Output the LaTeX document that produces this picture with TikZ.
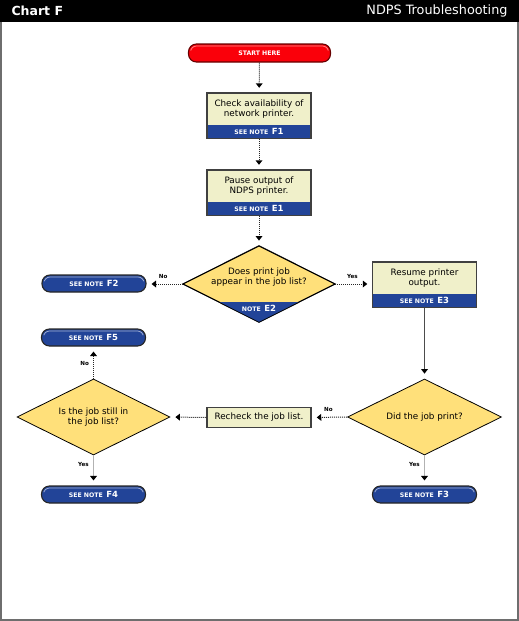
\documentclass[tikz,border=0pt]{standalone}
\usepackage{fontspec}
\setmainfont{DejaVu Sans}
\usepackage{tikz}
\usetikzlibrary{
arrows.meta,
calc,
positioning,
shapes.geometric,
}
\definecolor{notebl}{RGB}{34,68,152}
\definecolor{boxcream}{RGB}{240,240,202}
\definecolor{diamyel}{RGB}{255,224,122}
\definecolor{startred}{RGB}{250,0,10}
\definecolor{framegray}{RGB}{110,110,110}
\newcommand{\notetag}[2]{{\fontsize{6.2}{7}\selectfont\bfseries #1}\hspace{3.5pt}{\fontsize{8.5}{9}\selectfont\bfseries #2}}
\tikzset{>={Triangle[width=7pt,length=4.5pt,line width=0pt,color=black]}}

\begin{document}
\begin{tikzpicture}[x=1pt, y=-1pt,
  txt/.style={font=\fontsize{8.8}{10}\selectfont, align=center},
  taskbox/.style={txt, fill=boxcream, minimum width=104pt, minimum height=32pt, inner sep=0pt},
  noteband/.style={fill=notebl, text=white, minimum width=104pt, minimum height=13pt, inner sep=0pt},
  boxframe/.style={draw=black!75, line width=1.5pt},
  decision/.style={diamond, aspect=2, draw=black, line width=0.8pt, fill=diamyel, minimum width=153pt, minimum height=76pt, inner sep=0pt, txt},
  pillhi/.style={draw=white!60!notebl},
  pill/.style={draw=black!85, line width=1.1pt, fill=notebl, text=white, rounded corners=8pt,
    minimum width=104pt, minimum height=17pt, inner sep=0pt,
    path picture={
      \clip (path picture bounding box.north west) rectangle (path picture bounding box.east);
      \draw[pillhi, line width=0.7pt, rounded corners=6pt]
        ([shift={(2pt,-2pt)}]path picture bounding box.north west) rectangle
        ([shift={(-2pt,2pt)}]path picture bounding box.south east);}},
  flow/.style={draw=black!85, line width=1pt, dash pattern=on 1pt off 1pt, shorten >=5pt, ->},
  solidflow/.style={flow, solid},
  lbl/.style={font=\fontsize{5.6}{6}\selectfont\bfseries, inner sep=1pt},
]
\useasboundingbox (0,0) rectangle (519,621);

% frame and title bar
\draw[framegray, line width=2pt] (1,1) rectangle (518,620);
\fill[black] (0,0) rectangle (519,22);
\node[anchor=west, text=white, font=\fontsize{12.5}{14}\selectfont\bfseries] (chart) at (8,11) {Chart F};
\node[anchor=east, text=white, font=\fontsize{12.8}{14}\selectfont] (ndps) at (511,11) {NDPS Troubleshooting};

% main column
\node[pill, fill=startred, draw=black!60!red, pillhi/.style={draw=white!55!red},
  minimum width=142pt, minimum height=18pt] (start) at (259.5,53) {\fontsize{6.2}{7}\selectfont\bfseries START HERE};

\node[taskbox] (chk) at (259,109) {Check availability of\\network printer.};
\node[noteband, below=0pt of chk] (chkn) {\notetag{SEE NOTE}{F1}};
\draw[boxframe] (chk.north west) rectangle (chkn.south east);

\node[taskbox] (pause) at (259,186) {Pause output of\\NDPS printer.};
\node[noteband, below=0pt of pause] (pausen) {\notetag{SEE NOTE}{E1}};
\draw[boxframe] (pause.north west) rectangle (pausen.south east);

% first question
\node[decision, minimum width=152pt] (ask) at (259,284) {};
\begin{scope}
  \clip (ask.north) -- (ask.east) -- (ask.south) -- (ask.west) -- cycle;
  \fill[notebl] ($(ask.west)+(0,18)$) rectangle ($(ask.east)+(0,40)$);
\end{scope}
\draw[line width=0.8pt] (ask.north) -- (ask.east) -- (ask.south) -- (ask.west) -- cycle;
\node[txt] (asktxt) at ($(ask.center)+(0,-7)$) {Does print job\\appear in the job list?};
\node[text=white] (asknote) at ($(ask.center)+(0,24)$) {\notetag{NOTE}{E2}};

\node[pill] (f2) at (94,283.5) {\notetag{SEE NOTE}{F2}};

\node[taskbox] (resume) at (424.5,278) {Resume printer\\output.};
\node[noteband, below=0pt of resume] (resumen) {\notetag{SEE NOTE}{E3}};
\draw[boxframe] (resume.north west) rectangle (resumen.south east);

% lower row
\node[decision, minimum width=154pt] (did) at (424.5,417) {Did the job print?};
\node[taskbox, boxframe, minimum height=20pt] (recheck) at (259,417.5) {Recheck the job list.};
\node[decision] (still) at (93.5,417) {Is the job still in\\the job list?};

\node[pill] (f5) at (93.5,337.5) {\notetag{SEE NOTE}{F5}};
\node[pill] (f4) at (93.5,494.5) {\notetag{SEE NOTE}{F4}};
\node[pill] (f3) at (424.5,494.5) {\notetag{SEE NOTE}{F3}};

% connectors
\draw[flow] (start) -- (chk);
\draw[flow] (chkn) -- (pause);
\draw[flow] (pausen) -- (ask);
\draw[flow] (ask.west) -- node[lbl, above=4pt, pos=0.54]{No} (ask.west -| f2.east);
\draw[flow] (ask.east) -- node[lbl, above=4pt, pos=0.46]{Yes} (ask.east -| resume.west);
\draw[solidflow, draw=black!70, line width=0.9pt] (resumen) -- (did);
\draw[flow] (did.west) -- node[lbl, above=4pt, pos=0.53]{No} (recheck.east);
\draw[flow] (recheck.west) -- (still.east);
\draw[flow] (still.north) -- node[lbl, left=3pt, pos=0.48]{No} (f5.south);
\draw[solidflow, draw=black!30, line width=1.5pt] (still.south) -- node[lbl, left=3pt, pos=0.3]{Yes} (f4.north);
\draw[solidflow, draw=black!30, line width=1.5pt] (did.south) -- node[lbl, left=3pt, pos=0.3]{Yes} (f3.north);

\end{tikzpicture}
\end{document}
